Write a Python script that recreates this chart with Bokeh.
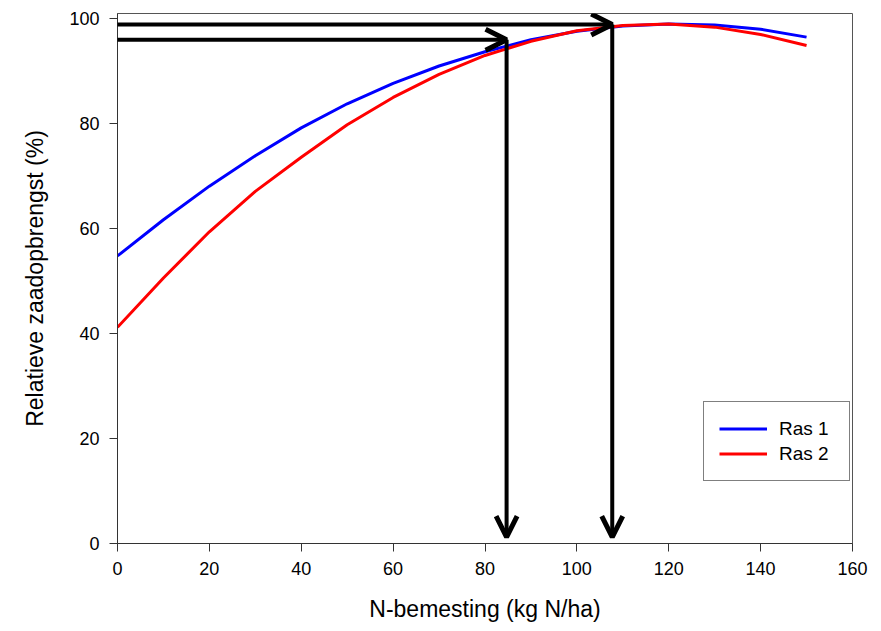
from bokeh.plotting import figure
from bokeh.models import Range1d, Legend, LegendItem, Arrow, OpenHead, ColumnDataSource
from bokeh.embed import file_html
from bokeh.resources import INLINE

# Data
n_dose = [0, 10, 20, 30, 40, 50, 60, 70, 80, 90, 100, 110, 120, 130, 140, 150]
ras1 = [54.8, 61.7, 68.1, 73.9, 79.2, 83.8, 87.7, 91.0, 93.7, 96.0, 97.6, 98.6, 99.0, 98.8, 98.0, 96.5]
ras2 = [41.2, 50.6, 59.4, 67.1, 73.6, 79.8, 85.0, 89.4, 93.0, 95.7, 97.7, 98.7, 99.0, 98.4, 97.0, 94.9]
series_names = ["Ras 1", "Ras 2"]

# optimum indication arrows (x of optimum, relative yield at optimum)
arrow_x = [84.7, 107.7]
arrow_y = [96.0, 98.9]
arrow_start_x = -0.9
arrow_end_y = 1.2

x_ticks = [0, 20, 40, 60, 80, 100, 120, 140, 160]
y_ticks = [0, 20, 40, 60, 80, 100]

FONT = "Liberation Sans"

p = figure(width=881, height=631, output_backend="svg", toolbar_location=None,
           x_range=Range1d(0, 160), y_range=Range1d(0, 101),
           min_border_left=117, min_border_right=29, min_border_top=13, min_border_bottom=88)
p.grid.visible = False
p.outline_line_color = "#555555"
p.outline_line_width = 1
p.background_fill_color = "white"
p.border_fill_color = "white"

src = ColumnDataSource(dict(x=n_dose, r1=ras1, r2=ras2))
l1 = p.line("x", "r1", source=src, line_color="#0000ff", line_width=3)
l2 = p.line("x", "r2", source=src, line_color="#ff0000", line_width=3)

for ax, yv in zip(arrow_x, arrow_y):
    p.add_layout(Arrow(end=OpenHead(size=21, line_width=5, line_color="black"),
                       x_start=arrow_start_x, y_start=yv, x_end=ax, y_end=yv,
                       line_width=4, line_color="black"))
    p.add_layout(Arrow(end=OpenHead(size=21, line_width=5, line_color="black"),
                       x_start=ax, y_start=yv, x_end=ax, y_end=arrow_end_y,
                       line_width=4, line_color="black"))

for axis in (p.xaxis[0], p.yaxis[0]):
    axis.axis_line_color = "#333333"
    axis.axis_line_width = 1
    axis.major_tick_line_color = "#333333"
    axis.major_tick_out = 8
    axis.major_tick_in = 0
    axis.minor_tick_line_color = None
    axis.major_label_text_font = FONT
    axis.major_label_text_font_size = "18px"
    axis.major_label_text_color = "black"
    axis.axis_label_text_font = FONT
    axis.axis_label_text_font_size = "23px"
    axis.axis_label_text_font_style = "normal"
    axis.axis_label_text_color = "black"

p.xaxis.ticker = x_ticks
p.yaxis.ticker = y_ticks
p.xaxis.axis_label = "N-bemesting (kg N/ha)"
p.yaxis.axis_label = "Relatieve zaadopbrengst (%)"
p.xaxis.major_label_standoff = 10
p.yaxis.major_label_standoff = 10
p.xaxis.axis_label_standoff = 18
p.yaxis.axis_label_standoff = 18

legend = Legend(items=[LegendItem(label=series_names[0], renderers=[l1]),
                       LegendItem(label=series_names[1], renderers=[l2])],
                location=(586, 62), orientation="vertical")
legend.border_line_color = "black"
legend.border_line_width = 1
legend.background_fill_color = "white"
legend.background_fill_alpha = 1
legend.label_text_font = FONT
legend.label_text_font_size = "19px"
legend.label_text_color = "black"
legend.glyph_width = 48
legend.glyph_height = 23
legend.label_height = 23
legend.label_width = 55
legend.label_standoff = 12
legend.spacing = 2
legend.padding = 15
legend.margin = 0
p.add_layout(legend, "center")

open("out.html", "w").write(file_html(p, INLINE))
